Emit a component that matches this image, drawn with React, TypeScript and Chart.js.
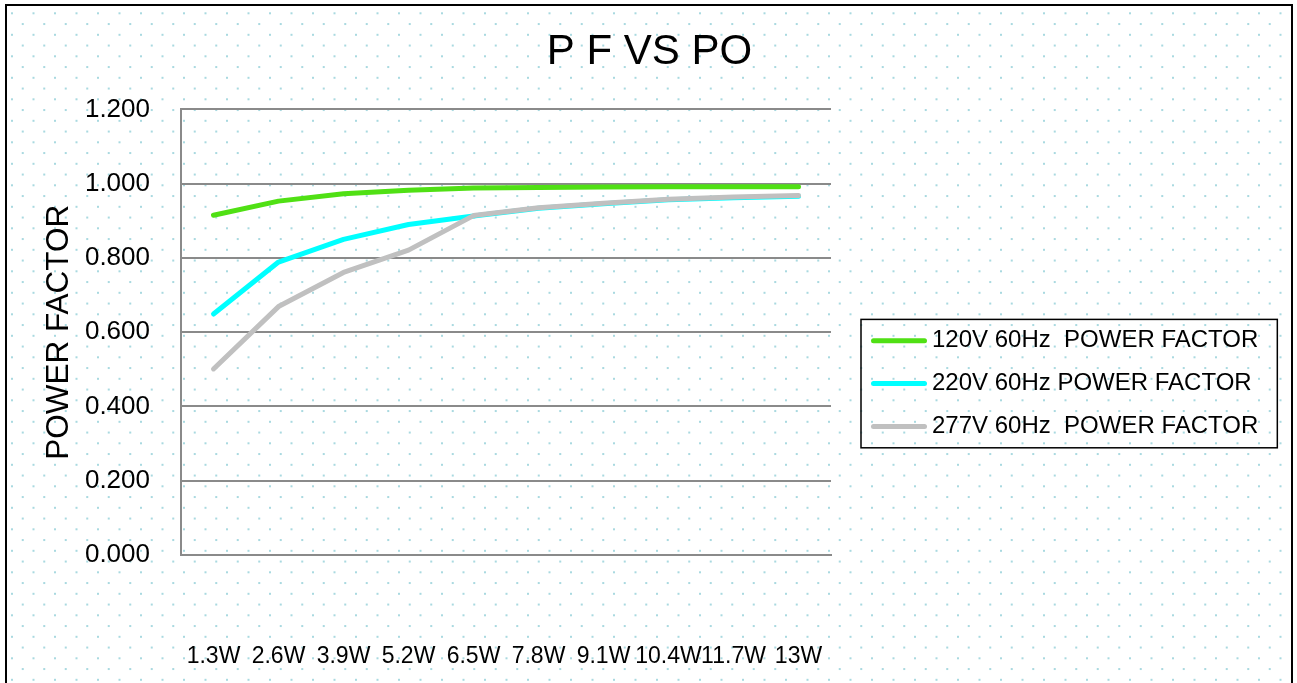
import { useEffect, useRef } from 'react';
import { Chart, registerables } from 'chart.js';

Chart.register(...registerables);

const categories = ['1.3W', '2.6W', '3.9W', '5.2W', '6.5W', '7.8W', '9.1W', '10.4W', '11.7W', '13W'];
const pf120 = [0.915, 0.953, 0.973, 0.982, 0.988, 0.99, 0.991, 0.992, 0.992, 0.992];
const pf220 = [0.649, 0.789, 0.85, 0.89, 0.913, 0.934, 0.946, 0.957, 0.962, 0.966];
const pf277 = [0.501, 0.669, 0.761, 0.821, 0.914, 0.935, 0.947, 0.958, 0.964, 0.968];
const seriesNames = ['120V 60Hz  POWER FACTOR', '220V 60Hz POWER FACTOR', '277V 60Hz  POWER FACTOR'];
const seriesColors = ['#50E014', '#00FFFF', '#C0C0C0'];
const titleText = 'P F VS PO';
const yTitleText = 'POWER FACTOR';

const FONT = "'Liberation Sans', Arial, sans-serif";
const GRID = '#8a8a8a';

const decorPlugin = {
  id: 'decor',
  beforeDraw(chart: any) {
    const { ctx, width, height } = chart;
    ctx.save();
    ctx.fillStyle = '#ffffff';
    ctx.fillRect(0, 0, width, height);
    ctx.fillStyle = '#a9d9e0';
    const step = 21.5;
    const half = step / 2;
    for (let r = 0; ; r++) {
      const y = 13.3 + r * half;
      if (y > height) break;
      const x0 = 12 + (r % 2 ? half : 0);
      for (let x = x0; x < width - 6; x += step) {
        ctx.fillRect(x - 1, y - 1, 2, 2);
      }
    }
    ctx.restore();
  },
  afterDraw(chart: any) {
    const { ctx, chartArea } = chart;
    ctx.save();
    // outer border
    ctx.strokeStyle = '#000';
    ctx.lineWidth = 2;
    ctx.strokeRect(6, 5, chart.width - 11, chart.height + 20);

    // legend
    const fontSize = 24;
    ctx.font = `${fontSize}px ${FONT}`;
    const ds = chart.data.datasets;
    const maxW = Math.max(...ds.map((d: any) => ctx.measureText(d.label).width));
    const padL = 10, lineLen = 56, gap = 5, padR = 19, rowH = 42.8;
    const boxW = padL + lineLen + gap + maxW + padR;
    const boxH = rowH * ds.length;
    const boxX = chartArea.right + 30;
    const boxY = chartArea.top + 210;
    ctx.lineWidth = 1.5;
    ctx.strokeStyle = '#000';
    ctx.strokeRect(boxX, boxY, boxW, boxH);
    ds.forEach((d: any, i: number) => {
      const cy = boxY + rowH * (i + 0.5);
      ctx.strokeStyle = d.borderColor;
      ctx.lineWidth = 5;
      ctx.lineCap = 'round';
      ctx.beginPath();
      ctx.moveTo(boxX + padL + 2.5, cy);
      ctx.lineTo(boxX + padL + lineLen - 2.5, cy);
      ctx.stroke();
      ctx.fillStyle = '#000';
      ctx.textBaseline = 'middle';
      ctx.textAlign = 'left';
      ctx.fillText(d.label, boxX + padL + lineLen + gap, cy);
    });
    ctx.restore();
  },
};

export default function App() {
  const ref = useRef<HTMLCanvasElement>(null);
  useEffect(() => {
    if (!ref.current) return;
    const mk = (data: number[], i: number, order: number) => ({
      label: seriesNames[i],
      data,
      borderColor: seriesColors[i],
      backgroundColor: seriesColors[i],
      borderWidth: 5,
      borderCapStyle: 'round',
      borderJoinStyle: 'round',
      pointRadius: 0,
      tension: 0,
      fill: false,
      order,
    });
    const chart = new Chart(ref.current, {
      type: 'line',
      data: {
        labels: categories,
        datasets: [mk(pf120, 0, 1), mk(pf220, 1, 3), mk(pf277, 2, 2)] as any,
      },
      options: {
        responsive: false,
        animation: false,
        layout: { padding: { left: 2, top: 8, right: 0, bottom: 12 } },
        plugins: {
          legend: { display: false },
          tooltip: { enabled: false },
          title: {
            display: true,
            text: titleText,
            color: '#000',
            font: { family: FONT, size: 42, weight: 'normal' },
            padding: { top: 19, bottom: 32 },
          },
        },
        scales: {
          x: {
            type: 'category',
            offset: true,
            grid: { display: false, drawTicks: false },
            border: { display: true, color: GRID, width: 2 },
            ticks: {
              color: '#000',
              font: { family: FONT, size: 23 },
              padding: 88,
              autoSkip: false,
              maxRotation: 0,
              minRotation: 0,
            },
            afterFit: (s: any) => {
              s.height = 116;
            },
          },
          y: {
            min: 0,
            max: 1.2,
            ticks: {
              stepSize: 0.2,
              callback: (v: any) => Number(v).toFixed(3),
              color: '#000',
              font: { family: FONT, size: 26 },
              padding: 31,
            },
            grid: { color: GRID, lineWidth: 2, drawTicks: false },
            border: { display: true, color: GRID, width: 2 },
            title: {
              display: true,
              text: yTitleText,
              color: '#000',
              font: { family: FONT, size: 31.5 },
              padding: { top: 38, bottom: 10 },
            },
            afterFit: (s: any) => {
              s.width = 179;
            },
          },
          y2: {
            position: 'right',
            display: true,
            grid: { display: false, drawTicks: false },
            border: { display: false },
            ticks: { display: false },
            afterFit: (s: any) => {
              s.width = 466;
            },
          },
        },
      } as any,
      plugins: [decorPlugin],
    });
    return () => chart.destroy();
  }, []);
  return (
    <div style={{ position: 'absolute', left: 0, top: 0, width: 1297, height: 683 }}>
      <canvas ref={ref} width={1297} height={683} style={{ width: 1297, height: 683, display: 'block' }} />
    </div>
  );
}
